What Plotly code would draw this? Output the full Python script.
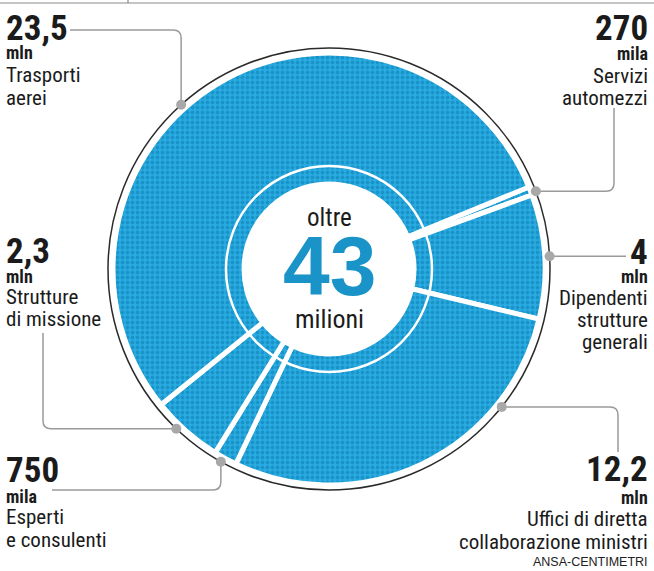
import math
import subprocess
import plotly.graph_objects as go

# Spending items (millions of euro), listed clockwise starting from the thin slice at ~2 o'clock
labels = [
    "Servizi automezzi",
    "Dipendenti strutture generali",
    "Uffici di diretta collaborazione ministri",
    "Esperti e consulenti",
    "Strutture di missione",
    "Trasporti aerei",
]
values = [0.27, 4.0, 12.2, 0.75, 2.3, 23.5]
value_text = ["270", "4", "12,2", "750", "2,3", "23,5"]
unit_text = ["mila", "mln", "mln", "mila", "mln", "mln"]
desc_lines = [
    ["Servizi", "automezzi"],
    ["Dipendenti", "strutture", "generali"],
    ["Uffici di diretta", "collaborazione ministri"],
    ["Esperti", "e consulenti"],
    ["Strutture", "di missione"],
    ["Trasporti", "aerei"],
]
total_top = "oltre"
total_value = "43"
total_bottom = "milioni"
source = "ANSA-CENTIMETRI"

W, H = 654, 571
CX, CY = 329, 269          # pie centre (px)
R = 216                    # pie radius (px)
R_RING = 221               # dark outline radius
R_INNER = 103              # thin white ring radius
HOLE = 85 / R
START = 67.7               # clockwise angle of first slice edge

BLUE = "#29ace2"
DOT = "#1a93c9"
DARK = "#1b1b1b"
GREY = "#9a9a9a"
WIDE = "Liberation Sans, Arial, sans-serif"


def installed_families():
    try:
        out = subprocess.run(["fc-list", ":", "family"], capture_output=True,
                             text=True, timeout=10).stdout
    except Exception:
        return set()
    fams = set()
    for line in out.splitlines():
        for f in line.split(","):
            fams.add(f.strip())
    return fams


# pick a condensed face; fall back to a regular sans at smaller sizes
condensed_pref = ["Roboto Condensed", "Noto Sans Condensed", "DejaVu Sans Condensed",
                  "Liberation Sans Narrow", "Open Sans Condensed"]
fams = installed_families()
chosen = next((f for f in condensed_pref if f in fams), None)
if chosen:
    NARROW = f"{chosen}, sans-serif"
    SCALE = 1.0
else:
    NARROW = "Liberation Sans, Arial, sans-serif"
    SCALE = 0.84


def px(x):
    return x / W


def py(y):
    return 1 - y / H


fig = go.Figure()
fig.add_trace(go.Pie(
    values=values, labels=labels, sort=False, direction="clockwise",
    rotation=START, hole=HOLE, textinfo="none", hoverinfo="skip",
    showlegend=False,
    marker=dict(colors=[BLUE] * len(values),
                line=dict(color="white", width=5),
                pattern=dict(shape=".", fgcolor=DOT, bgcolor=BLUE,
                             size=5, solidity=0.45, fillmode="replace")),
    domain=dict(x=[px(CX - R), px(CX + R)], y=[py(CY + R), py(CY - R)]),
))

shapes = []


def circle(r, color, width):
    shapes.append(dict(type="circle", xref="paper", yref="paper",
                       x0=px(CX - r), x1=px(CX + r), y0=py(CY + r), y1=py(CY - r),
                       line=dict(color=color, width=width), layer="above"))


circle(R_RING, "#2a2a2a", 1.5)
circle(R_INNER, "white", 2.5)

# header rule
shapes.append(dict(type="line", xref="paper", yref="paper", x0=0, x1=1, y0=py(3), y1=py(3),
                   line=dict(color="#8a8a8a", width=1.2)))
shapes.append(dict(type="line", xref="paper", yref="paper", x0=px(128), x1=px(128), y0=py(0), y1=py(3),
                   line=dict(color="#8a8a8a", width=1.2)))

# angle of each callout dot on the outline (degrees clockwise from 12 o'clock)
dot_angle = [69.4, 86.7, 128.6, 209.3, 223.7, 318.0]


def dot_xy(i):
    a = math.radians(dot_angle[i])
    return CX + R_RING * math.sin(a), CY - R_RING * math.cos(a)


def path(points_cmds):
    parts = []
    for cmd, pts in points_cmds:
        coords = " ".join(f"{px(x):.5f},{py(y):.5f}" for x, y in pts)
        parts.append(f"{cmd} {coords}")
    return " ".join(parts)


leaders = []
k = 8
# Servizi automezzi: right then up
x0, y0 = dot_xy(0)
leaders.append(path([("M", [(x0, y0)]), ("L", [(614 - k, y0)]), ("Q", [(614, y0), (614, y0 - k)]), ("L", [(614, 108)])]))
# Dipendenti: straight right
x0, y0 = dot_xy(1)
leaders.append(path([("M", [(x0, y0)]), ("L", [(626, y0)])]))
# Uffici: right then down
x0, y0 = dot_xy(2)
leaders.append(path([("M", [(x0, y0)]), ("L", [(618 - k, y0)]), ("Q", [(618, y0), (618, y0 + k)]), ("L", [(618, 452)])]))
# Esperti: down then left
x0, y0 = dot_xy(3)
leaders.append(path([("M", [(x0, y0)]), ("L", [(x0, 490 - k)]), ("Q", [(x0, 490), (x0 - k, 490)]), ("L", [(52, 490)])]))
# Strutture di missione: left then up
x0, y0 = dot_xy(4)
leaders.append(path([("M", [(x0, y0)]), ("L", [(43 + k, y0)]), ("Q", [(43, y0), (43, y0 - k)]), ("L", [(43, 333)])]))
# Trasporti aerei: from label right then down
x0, y0 = dot_xy(5)
leaders.append(path([("M", [(70, 30)]), ("L", [(x0 - k, 30)]), ("Q", [(x0, 30), (x0, 30 + k)]), ("L", [(x0, y0)])]))

for p in leaders:
    shapes.append(dict(type="path", xref="paper", yref="paper", path=p,
                       line=dict(color=GREY, width=1.5), layer="above"))

for i in range(len(values)):
    x0, y0 = dot_xy(i)
    r = 5
    shapes.append(dict(type="circle", xref="paper", yref="paper",
                       x0=px(x0 - r), x1=px(x0 + r), y0=py(y0 + r), y1=py(y0 - r),
                       fillcolor="#a8a8a8", line=dict(width=0), layer="above"))

annotations = []


def text(x, y, s, size, anchor, bold=False, family=None, color=DARK):
    if bold:
        s = f"<b>{s}</b>"
    if family is None:
        family = NARROW
        size = size * SCALE
    annotations.append(dict(x=px(x), y=py(y), xref="paper", yref="paper", text=s,
                            showarrow=False, xanchor=anchor, yanchor="middle",
                            borderpad=0,
                            font=dict(family=family, size=size, color=color)))


# label blocks: (x, anchor, y of number, y of unit, y of description lines)
blocks = [
    (649, "right", 29, 53, [76, 98]),
    (649, "right", 252, 276, [298, 320, 342]),
    (649, "right", 469, 497, [519, 542]),
    (5, "left", 470, 496, [517, 540]),
    (5, "left", 251, 276, [297, 319]),
    (5, "left", 29, 52, [75, 98]),
]
for i, (x, anc, yn, yu, yd) in enumerate(blocks):
    text(x, yn, value_text[i], 35, anc, bold=True)
    text(x, yu, unit_text[i], 18, anc, bold=True)
    for line, yy in zip(desc_lines[i], yd):
        text(x, yy, line, 21, anc)

text(649, 562, source, 12.5, "right", family=WIDE, color="#222222")

# centre total
text(CX, 217, total_top, 25, "center")
text(CX, 266, total_value, 84, "center", bold=True, family=WIDE, color="#1a93c8")
text(CX, 319, total_bottom, 26, "center")

fig.update_layout(
    width=W, height=H, autosize=False,
    margin=dict(l=0, r=0, t=0, b=0),
    paper_bgcolor="white", plot_bgcolor="white",
    shapes=shapes, annotations=annotations,
)

fig.write_html("out.html")
